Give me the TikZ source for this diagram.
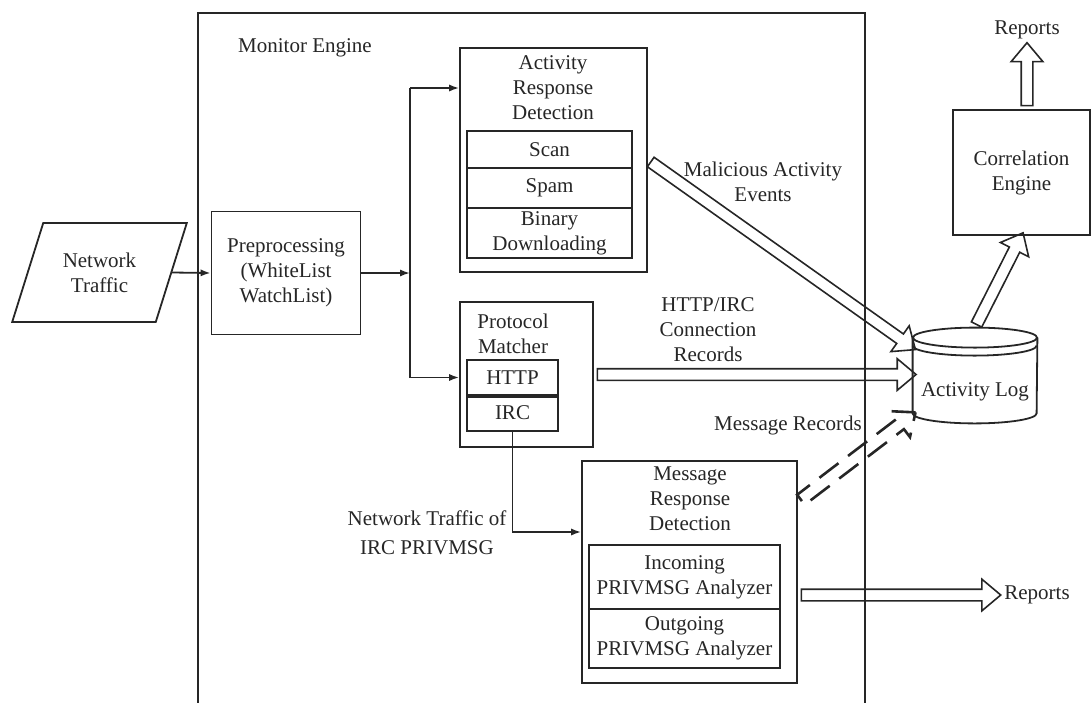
\documentclass[tikz,border=0pt]{standalone}
\usepackage{fontspec}
\setmainfont{Liberation Serif}
\usetikzlibrary{shapes,arrows,arrows.meta,calc}

\begin{document}
\begin{tikzpicture}[x=0.5pt,y=-0.5pt,>={Latex[length=5pt,width=3.6pt]},
	every node/.style={font=\fontsize{10.5}{12.5}\selectfont, align=center, text=black!85},
	box/.style={draw=black!85, line width=0.9pt, inner sep=0pt},
	line/.style={draw=black!85, line width=0.9pt},
	fat/.style={single arrow, draw=black!85, line width=0.8pt, inner sep=2.5pt, single arrow head extend=5pt, single arrow tip angle=80}]
	\useasboundingbox (0,0) rectangle (1092,702);
	% monitor engine frame, open at the bottom
	\draw[line] (198,730) rectangle (865,13);
	\node (mon) at (305,48) {Monitor Engine};

	\node[box, trapezium, trapezium left angle=63, trapezium right angle=117, trapezium stretches=true, minimum width=87.5pt, minimum height=49.5pt] (traffic) at (99.5,272.5) {Network\\Traffic};
	\node[box, minimum width=74.5pt, minimum height=61.5pt] (prep) at (286,273) {Preprocessing\\(WhiteList\\WatchList)};

	\node[box, minimum width=93.5pt, minimum height=112pt] (ard) at (553.5,160) {};
	\node (ardt) at (553,88) {Activity\\Response\\Detection};
	\node[box, minimum width=82.5pt, minimum height=18.5pt] (scan) at (549.5,149.5) {Scan};
	\node[box, minimum width=82.5pt, minimum height=20pt] (spam) at (549.5,188) {Spam};
	\node[box, minimum width=82.5pt, minimum height=25pt] (bin) at (549.5,233) {Binary\\Downloading};

	\node[box, minimum width=66.5pt, minimum height=72.5pt] (pm) at (526.5,374.5) {};
	\node (pmt) at (513,334) {Protocol\\Matcher};
	\node[box, minimum width=45.5pt, minimum height=17.5pt] (http) at (512.5,377.5) {HTTP};
	\node[box, minimum width=45.5pt, minimum height=18pt] (irc) at (512.5,413) {IRC};
	\draw[draw=black!85, line width=1.6pt] (http.south west) -- (http.south east);

	\node[box, minimum width=107.5pt, minimum height=111pt] (msg) at (689.5,572) {};
	\node (msgt) at (690,499) {Message\\Response\\Detection};
	\node[box, minimum width=95.5pt, minimum height=32pt] (inc) at (684.5,577) {Incoming\\PRIVMSG Analyzer};
	\node[box, minimum width=95.5pt, minimum height=29.5pt] (out) at (684.5,638.5) {Outgoing\\PRIVMSG Analyzer};

	\node[box, minimum width=68.5pt, minimum height=62.5pt] (corr) at (1021.5,172.5) {Correlation\\Engine};

	% activity log drum
	\node[inner sep=0pt, minimum width=62pt, minimum height=47.5pt] (log) at (975,375.5) {};
	\node (logt) at (975,392) {Activity Log};
	\draw[line] ([yshift=-5pt]log.north west) -- ([yshift=5pt]log.south west) arc[start angle=180, end angle=360, x radius=31pt, y radius=5pt] -- ([yshift=-5pt]log.north east);
	\draw[line] ([yshift=-5pt]log.north) ellipse[x radius=31pt, y radius=5pt];
	\draw[line] ([yshift=-9pt]log.north west) arc[start angle=180, end angle=360, x radius=31pt, y radius=5pt];

	\node (rep1) at (1027,30) {Reports};
	\node (rep2) at (1037,595) {Reports};
	\node (mal) at (763,182) {Malicious Activity\\Events};
	\node (conn) at (708,330) {HTTP/IRC\\Connection\\Records};
	\node (msgrec) at (788,425) {Message Records};
	\node (irclab) at (427,533) {Network Traffic of\\[2pt]IRC PRIVMSG};

	% thin connectors
	\coordinate (split) at (410,273);
	\draw[line,->] (traffic.east) -- (prep.west);
	\draw[line,->] (prep.east) -- (split);
	\draw[line] (split |- ardt) -- (split |- http);
	\draw[line,->] (split |- ardt) -- (ard.west |- ardt);
	\draw[line,->] (split |- http) -- (pm.west |- http);
	\draw[line,->] (irc.south) |- ([yshift=20pt]msg.west);

	% hollow block arrows
	\coordinate (malin) at ([yshift=-10pt]log.north west);
	\coordinate (msgout) at ([yshift=-21pt]msg.north east);
	\coordinate (msgin) at ([yshift=-43.5pt]log.north west);
	\foreach \a/\b in {ard.east/malin, pm.east/log.west |- pm.east, msg.east |- rep2/rep2.west, log.north/corr.south, corr.north -| rep1/rep1.south}
		\path let \p1=($(\b)-(\a)$) in node[fat, minimum height={veclen(\x1,\y1)}, rotate={atan2(\y1,\x1)}] at ($(\a)!.5!(\b)$) {};
	\path let \p1=($(msgin)-(msgout)$) in node[fat, line width=1.3pt, dash pattern=on 12pt off 6pt, minimum height={veclen(\x1,\y1)}, rotate={atan2(\y1,\x1)}] at ($(msgout)!.5!(msgin)$) {};
\end{tikzpicture}
\end{document}
